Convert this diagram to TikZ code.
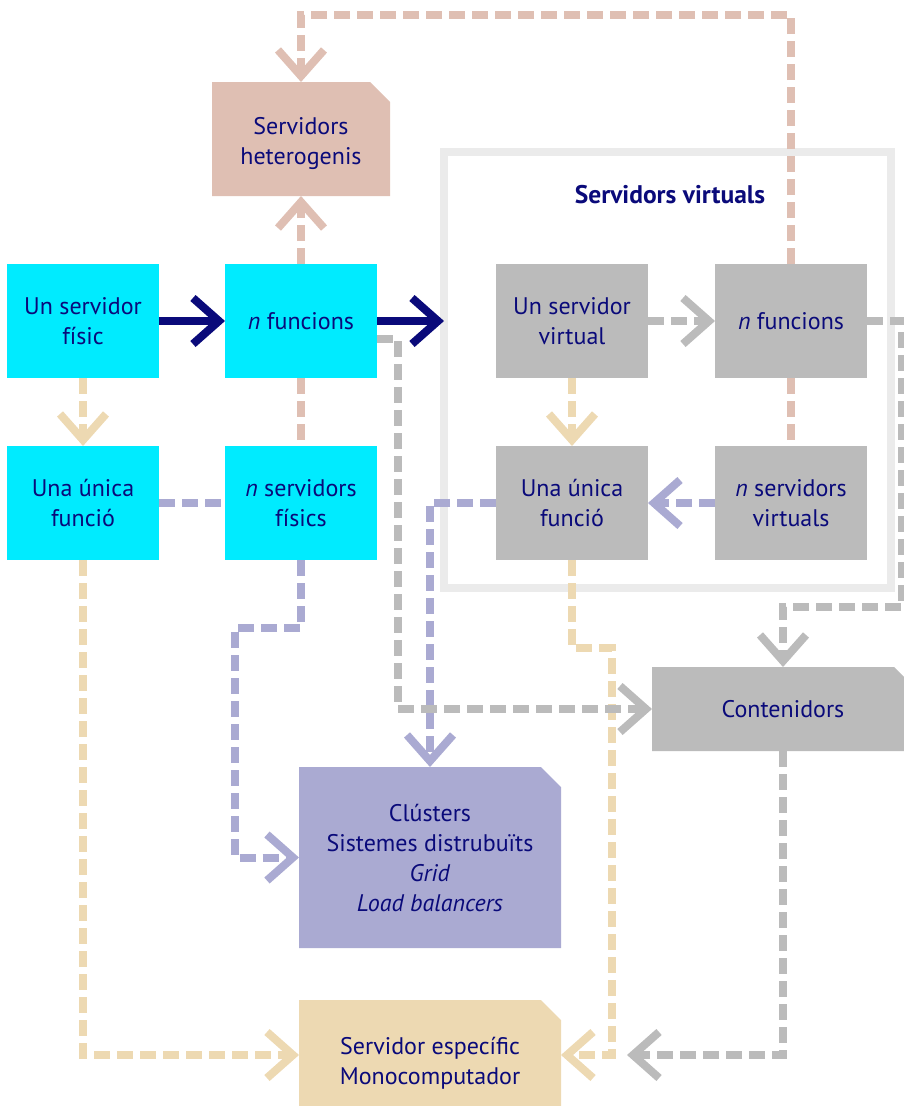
\documentclass[tikz,border=0pt]{standalone}
\usepackage{fontspec}
\setmainfont{PT Sans}
\usetikzlibrary{arrows.meta,calc}

\definecolor{inkblue}{RGB}{10,10,122}
\definecolor{cyanbox}{RGB}{0,235,255}
\definecolor{rosebox}{RGB}{223,191,179}
\definecolor{greybox}{RGB}{187,187,187}
\definecolor{lavbox}{RGB}{170,170,210}
\definecolor{sandbox}{RGB}{237,217,178}
\definecolor{framegrey}{RGB}{235,235,235}

\tikzset{
  txt/.style={inner sep=0pt, outer sep=0pt, align=center, text=inkblue,
              font=\fontsize{24}{30}\selectfont},
  cell/.style={txt, minimum width=152pt, minimum height=114pt},
  cyancell/.style={cell, fill=cyanbox},
  greycell/.style={cell, fill=greybox},
  conn/.style={line width=8pt, dash pattern=on 16pt off 7pt},
  solidconn/.style={line width=8pt, draw=inkblue},
  head/.style={-{Straight Barb[length=26pt,width=46pt]}},
}

\begin{document}
\begin{tikzpicture}[x=1pt,y=-1pt]
\useasboundingbox (0,0) rectangle (904,1106);

% frame around the virtual servers
\node[draw=framegrey, line width=8pt, inner sep=0pt, outer sep=0pt,
      minimum width=447pt, minimum height=436pt] (vframe) at (667.5,370) {};
\node[txt, font=\bfseries\fontsize{25.5}{30}\selectfont] (vtitle) at (670,195) {Servidors virtuals};

% physical servers
\node[cyancell] (fis)  at (83,321)  {Un servidor\\físic};
\node[cyancell] (nfun) at (301,321) {\textit{n} funcions};
\node[cyancell] (una)  at (83,503)  {Una única\\funció};
\node[cyancell] (nsf)  at (301,503) {\textit{n} servidors\\físics};

% virtual servers
\node[greycell] (usv) at (572,321) {Un servidor\\virtual};
\node[greycell] (nfv) at (791,321) {\textit{n} funcions};
\node[greycell] (unv) at (572,503) {Una única\\funció};
\node[greycell] (nsv) at (791,503) {\textit{n} servidors\\virtuals};

% result boxes with a cut corner
\fill[rosebox] (212,82) -- (370,82) -- (390,102) -- (390,196) -- (212,196) -- cycle;
\node[txt, minimum width=178pt, minimum height=114pt,
      label={[txt, yshift=-4pt]center:{Servidors\\heterogenis}}] (het) at (301,139) {};

\fill[greybox] (652,667) -- (894,667) -- (914,687) -- (914,751) -- (652,751) -- cycle;
\node[txt, minimum width=262pt, minimum height=84pt] (cont) at (783,709) {Contenidors};

\fill[lavbox] (299,767) -- (541,767) -- (561,787) -- (561,948) -- (299,948) -- cycle;
\node[txt, minimum width=262pt, minimum height=181pt] (clu) at (430,857.5)
  {Clústers\\Sistemes distrubuïts\\\textit{Grid}\\\textit{Load balancers}};

\fill[sandbox] (299,1000) -- (541,1000) -- (561,1020) -- (561,1126) -- (299,1126) -- cycle;
\node[txt, minimum width=262pt, minimum height=126pt] (esp) at (430,1063)
  {Servidor específic\\Monocomputador};

\coordinate (espL) at ($(esp.west)+(0,-8)$);
\coordinate (espR) at ($(esp.east)+(0,-8)$);
\coordinate (gend) at ($(espR)+(66,0)$);

% solid connectors
\draw[solidconn, head] (fis.east) -- (nfun.west);
\draw[solidconn, head] (nfun.east) -- (nfun.east -| vframe.west);

% rose connectors
\draw[conn, rosebox, head] (nfun.north) -- (nfun.north |- het.south);
\draw[conn, rosebox] (nfun.south) -- (nsf.north);
\draw[conn, rosebox] (nfv.south) -- (nsv.north);
\draw[conn, rosebox, head] (nfv.north) -- (nfv.north |- 0,15) -| (het.north);

% sand connectors
\draw[conn, sandbox, head] (fis.south) -- (una.north);
\draw[conn, sandbox, head] (usv.south) -- (unv.north);
\draw[conn, sandbox, head] (una.south) |- (espL);
\draw[conn, sandbox, head] (unv.south) |- (612,648) |- (espR);

% lavender connectors
\draw[conn, lavbox] (una.east) -- (nsf.west);
\draw[conn, lavbox, head] (nsv.west) -- (unv.east);
\draw[conn, lavbox, head] (nsf.south) |- (235,628) |- (clu.west);
\draw[conn, lavbox, head] (unv.west) -| (clu.north);

% grey connectors
\draw[conn, greybox, head] (usv.east) -- (nfv.west);
\draw[conn, greybox, head] ([yshift=-18pt]nfun.east) -- ++(21,0) |- (cont.west);
\draw[conn, greybox, head] (nfv.east) -- ++(35,0) |- ($(cont.north)+(0,-60)$) -- (cont.north);
\draw[conn, greybox, head] (cont.south) |- (gend);
\end{tikzpicture}
\end{document}
